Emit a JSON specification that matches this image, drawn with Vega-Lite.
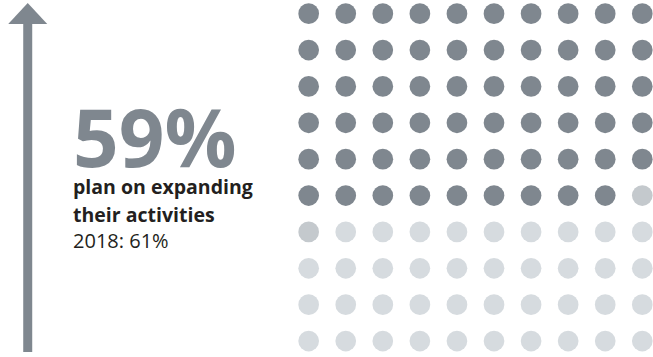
{
  "$schema": "https://vega.github.io/schema/vega-lite/v6.json",
  "width": 653,
  "height": 357,
  "padding": 0,
  "autosize": {"type": "fit", "contains": "padding"},
  "config": {"view": {"stroke": null}},
  "encoding": {
    "x": {"field": "c", "type": "quantitative", "axis": null, "scale": {"domain": [-7.327, 10.289], "nice": false, "zero": false}},
    "y": {"field": "r", "type": "quantitative", "axis": null, "scale": {"domain": [0.6245, 10.411], "nice": false, "zero": false, "reverse": true}}
  },
  "layer": [
    {
      "data": {"values": [{"c": -6.579, "r": 1.1, "r2": 10.301}]},
      "mark": {"type": "rule", "color": "#7f878f", "strokeWidth": 9, "strokeCap": "butt"},
      "encoding": {"y2": {"field": "r2"}}
    },
    {
      "data": {"values": [{"c": -6.579, "r": 0.9945}]},
      "mark": {"type": "point", "shape": "M0,-0.54L1,0.54L-1,0.54Z", "filled": true, "opacity": 1, "color": "#7f878f", "size": 1521, "strokeWidth": 0}
    },
    {
      "data": {"values": [{"c": -5.357, "r": 5.202, "t": "59%"}]},
      "mark": {"type": "text", "align": "left", "baseline": "alphabetic", "font": "Open Sans", "fontWeight": "bold", "fontSize": 80, "color": "#7f878f"},
      "encoding": {"text": {"field": "t"}}
    },
    {
      "data": {"values": [{"c": -5.357, "r": 5.951, "t": "plan on expanding"}, {"c": -5.357, "r": 6.729, "t": "their activities"}]},
      "mark": {"type": "text", "align": "left", "baseline": "alphabetic", "font": "Open Sans", "fontWeight": "bold", "fontSize": 19.5, "color": "#231f20"},
      "encoding": {"text": {"field": "t"}}
    },
    {
      "data": {"values": [{"c": -5.357, "r": 7.431, "t": "2018: 61%"}]},
      "mark": {"type": "text", "align": "left", "baseline": "alphabetic", "font": "Open Sans", "fontWeight": "normal", "fontSize": 20, "color": "#231f20"},
      "encoding": {"text": {"field": "t"}}
    },
    {
      "data": {"values": [
        {"r":1,"c":1,"g":"yes"},{"r":1,"c":2,"g":"yes"},{"r":1,"c":3,"g":"yes"},{"r":1,"c":4,"g":"yes"},{"r":1,"c":5,"g":"yes"},{"r":1,"c":6,"g":"yes"},{"r":1,"c":7,"g":"yes"},{"r":1,"c":8,"g":"yes"},{"r":1,"c":9,"g":"yes"},{"r":1,"c":10,"g":"yes"},
        {"r":2,"c":1,"g":"yes"},{"r":2,"c":2,"g":"yes"},{"r":2,"c":3,"g":"yes"},{"r":2,"c":4,"g":"yes"},{"r":2,"c":5,"g":"yes"},{"r":2,"c":6,"g":"yes"},{"r":2,"c":7,"g":"yes"},{"r":2,"c":8,"g":"yes"},{"r":2,"c":9,"g":"yes"},{"r":2,"c":10,"g":"yes"},
        {"r":3,"c":1,"g":"yes"},{"r":3,"c":2,"g":"yes"},{"r":3,"c":3,"g":"yes"},{"r":3,"c":4,"g":"yes"},{"r":3,"c":5,"g":"yes"},{"r":3,"c":6,"g":"yes"},{"r":3,"c":7,"g":"yes"},{"r":3,"c":8,"g":"yes"},{"r":3,"c":9,"g":"yes"},{"r":3,"c":10,"g":"yes"},
        {"r":4,"c":1,"g":"yes"},{"r":4,"c":2,"g":"yes"},{"r":4,"c":3,"g":"yes"},{"r":4,"c":4,"g":"yes"},{"r":4,"c":5,"g":"yes"},{"r":4,"c":6,"g":"yes"},{"r":4,"c":7,"g":"yes"},{"r":4,"c":8,"g":"yes"},{"r":4,"c":9,"g":"yes"},{"r":4,"c":10,"g":"yes"},
        {"r":5,"c":1,"g":"yes"},{"r":5,"c":2,"g":"yes"},{"r":5,"c":3,"g":"yes"},{"r":5,"c":4,"g":"yes"},{"r":5,"c":5,"g":"yes"},{"r":5,"c":6,"g":"yes"},{"r":5,"c":7,"g":"yes"},{"r":5,"c":8,"g":"yes"},{"r":5,"c":9,"g":"yes"},{"r":5,"c":10,"g":"yes"},
        {"r":6,"c":1,"g":"yes"},{"r":6,"c":2,"g":"yes"},{"r":6,"c":3,"g":"yes"},{"r":6,"c":4,"g":"yes"},{"r":6,"c":5,"g":"yes"},{"r":6,"c":6,"g":"yes"},{"r":6,"c":7,"g":"yes"},{"r":6,"c":8,"g":"yes"},{"r":6,"c":9,"g":"yes"},{"r":6,"c":10,"g":"2018"},
        {"r":7,"c":1,"g":"2018"},{"r":7,"c":2,"g":"no"},{"r":7,"c":3,"g":"no"},{"r":7,"c":4,"g":"no"},{"r":7,"c":5,"g":"no"},{"r":7,"c":6,"g":"no"},{"r":7,"c":7,"g":"no"},{"r":7,"c":8,"g":"no"},{"r":7,"c":9,"g":"no"},{"r":7,"c":10,"g":"no"},
        {"r":8,"c":1,"g":"no"},{"r":8,"c":2,"g":"no"},{"r":8,"c":3,"g":"no"},{"r":8,"c":4,"g":"no"},{"r":8,"c":5,"g":"no"},{"r":8,"c":6,"g":"no"},{"r":8,"c":7,"g":"no"},{"r":8,"c":8,"g":"no"},{"r":8,"c":9,"g":"no"},{"r":8,"c":10,"g":"no"},
        {"r":9,"c":1,"g":"no"},{"r":9,"c":2,"g":"no"},{"r":9,"c":3,"g":"no"},{"r":9,"c":4,"g":"no"},{"r":9,"c":5,"g":"no"},{"r":9,"c":6,"g":"no"},{"r":9,"c":7,"g":"no"},{"r":9,"c":8,"g":"no"},{"r":9,"c":9,"g":"no"},{"r":9,"c":10,"g":"no"},
        {"r":10,"c":1,"g":"no"},{"r":10,"c":2,"g":"no"},{"r":10,"c":3,"g":"no"},{"r":10,"c":4,"g":"no"},{"r":10,"c":5,"g":"no"},{"r":10,"c":6,"g":"no"},{"r":10,"c":7,"g":"no"},{"r":10,"c":8,"g":"no"},{"r":10,"c":9,"g":"no"},{"r":10,"c":10,"g":"no"}
      ]},
      "mark": {"type": "circle", "size": 428, "opacity": 1},
      "encoding": {
        "color": {"field": "g", "type": "nominal", "legend": null, "scale": {"domain": ["yes", "2018", "no"], "range": ["#7f878f", "#c4c9cd", "#d6dbdf"]}}
      }
    }
  ]
}
